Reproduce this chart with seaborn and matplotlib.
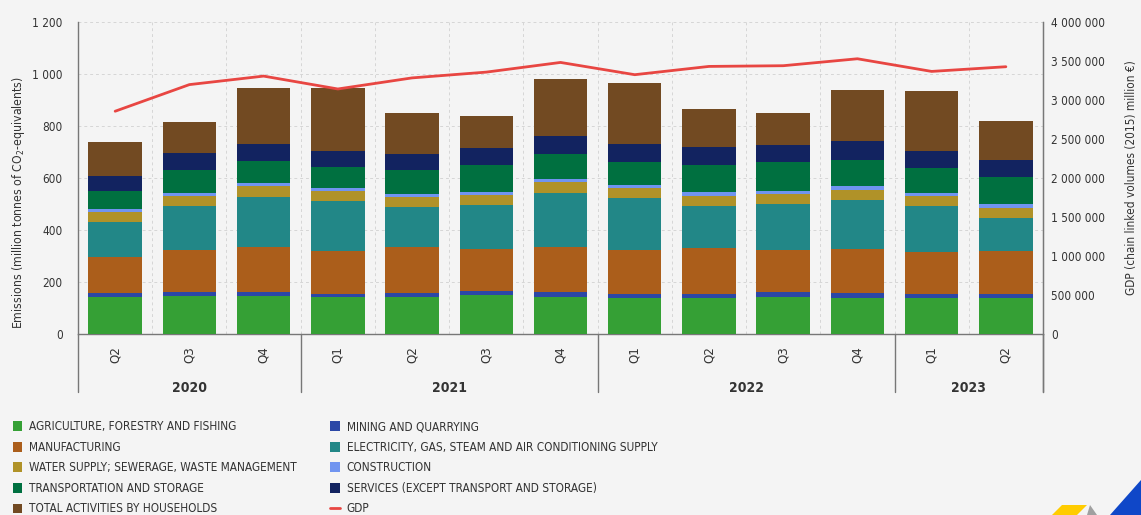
import numpy as np
import pandas as pd
import matplotlib
matplotlib.use("Agg")
import matplotlib.pyplot as plt
import matplotlib.transforms as mtransforms
from matplotlib.patches import Patch, Polygon
from matplotlib.lines import Line2D
from matplotlib.ticker import FuncFormatter, MultipleLocator
import seaborn as sns

# === Data ===
quarters = ["Q2", "Q3", "Q4", "Q1", "Q2", "Q3", "Q4", "Q1", "Q2", "Q3", "Q4", "Q1", "Q2"]
years = [2020, 2020, 2020, 2021, 2021, 2021, 2021, 2022, 2022, 2022, 2022, 2023, 2023]
year_labels = ["2020", "2021", "2022", "2023"]

agriculture = [144, 146, 146, 141, 144, 149, 144, 139, 140, 144, 140, 137, 139]
mining = [13, 16, 16, 14, 15, 15, 16, 15, 15, 16, 18, 17, 16]
manufacturing = [138, 159, 174, 163, 175, 162, 176, 167, 175, 161, 168, 160, 162]
electricity = [135, 169, 190, 193, 154, 171, 207, 200, 163, 177, 189, 176, 130]
water_supply = [39, 39, 41, 38, 38, 38, 40, 39, 38, 40, 38, 39, 38]
construction = [10, 11, 13, 13, 13, 12, 14, 14, 15, 11, 14, 12, 13]
transport = [70, 92, 85, 79, 90, 101, 96, 88, 105, 111, 103, 97, 105]
services = [59, 62, 65, 61, 64, 67, 68, 67, 68, 68, 70, 67, 67]
households = [130, 121, 216, 242, 158, 123, 220, 236, 146, 123, 199, 228, 148]

gdp = [2853000, 3194000, 3303000, 3138000, 3280000, 3354000, 3478000,
       3321000, 3427000, 3436000, 3525000, 3363000, 3423000]

sectors = [
    ("AGRICULTURE, FORESTRY AND FISHING", agriculture, "#35a035"),
    ("MINING AND QUARRYING", mining, "#2b47a6"),
    ("MANUFACTURING", manufacturing, "#ab5e1b"),
    ("ELECTRICITY, GAS, STEAM AND AIR CONDITIONING SUPPLY", electricity, "#228787"),
    ("WATER SUPPLY; SEWERAGE, WASTE MANAGEMENT", water_supply, "#b09228"),
    ("CONSTRUCTION", construction, "#7094f0"),
    ("TRANSPORTATION AND STORAGE", transport, "#007040"),
    ("SERVICES (EXCEPT TRANSPORT AND STORAGE)", services, "#122360"),
    ("TOTAL ACTIVITIES BY HOUSEHOLDS", households, "#724a22"),
]
gdp_color = "#e84642"

keys = [f"{y} {q}" for y, q in zip(years, quarters)]

# === Style ===
sns.set_style("white")
bg = "#f4f4f4"
plt.rcParams["font.family"] = ["DejaVu Sans"]
plt.rcParams["font.stretch"] = "condensed"
plt.rcParams["mathtext.default"] = "regular"
plt.rcParams["figure.facecolor"] = bg
plt.rcParams["axes.facecolor"] = bg
text_col = "#333333"

fig = plt.figure(figsize=(11.41, 5.15), dpi=100)
ax = fig.add_axes([0.0684, 0.3515, 0.9141 - 0.0684, 0.9579 - 0.3515])

# === Stacked bars ===
bottom = np.zeros(len(keys))
for name, vals, col in sectors:
    sns.barplot(x=keys, y=vals, bottom=bottom, color=col, width=0.72,
                errorbar=None, ax=ax, saturation=1, linewidth=0, zorder=3)
    bottom = bottom + np.array(vals)

ax.set_ylim(0, 1200)
ax.set_xlim(-0.5, len(keys) - 0.5)
ax.yaxis.set_major_locator(MultipleLocator(200))
ax.yaxis.set_major_formatter(FuncFormatter(lambda v, p: f"{v:,.0f}".replace(",", " ")))
ax.tick_params(axis="y", length=0, labelsize=8.5, labelcolor=text_col, pad=11)
ax.grid(axis="y", color="#d6d6d6", linestyle=(0, (3, 3)), linewidth=0.7, zorder=0)

# quarter separators / vertical grid
bounds = np.arange(len(keys) + 1) - 0.5
ax.set_xticks(bounds, minor=True)
ax.grid(axis="x", which="minor", color="#d6d6d6", linestyle=(0, (3, 3)), linewidth=0.7, zorder=0)
ax.tick_params(axis="x", which="minor", length=40, width=0.9, color="#666666")
ax.set_xticks(range(len(keys)))
ax.set_xticklabels(quarters, rotation=90, fontsize=9.5, color=text_col)
ax.tick_params(axis="x", which="major", length=0, pad=9)
ax.set_xlabel("")

ax.spines["top"].set_visible(False)
for s in ["left", "right", "bottom"]:
    ax.spines[s].set_color("#777777")
    ax.spines[s].set_linewidth(1)

# year separators and labels
trans = mtransforms.blended_transform_factory(ax.transData, ax.transAxes)
year_bounds = [-0.5, 2.5, 6.5, 10.5, 12.5]
for b in year_bounds:
    ax.plot([b, b], [0, -0.185], transform=trans, color="#777777", lw=1, clip_on=False)
for i, lab in enumerate(year_labels):
    xc = (year_bounds[i] + year_bounds[i + 1]) / 2
    ax.text(xc, -0.172, lab, transform=trans, ha="center", va="center",
            fontsize=10, fontweight="bold", color=text_col)

ax.set_ylabel("Emissions (million tonnes of CO$_2$-equivalents)", fontsize=8.8,
              color=text_col)
ax.yaxis.set_label_coords(-0.053, 0.42)

# === GDP line ===
ax2 = ax.twinx()
sns.lineplot(x=keys, y=gdp, ax=ax2, color=gdp_color, linewidth=2, sort=False, zorder=4)
ax2.set_ylim(0, 4000000)
ax2.yaxis.set_major_locator(MultipleLocator(500000))
ax2.yaxis.set_major_formatter(FuncFormatter(lambda v, p: f"{v:,.0f}".replace(",", " ")))
ax2.tick_params(axis="y", length=0, labelsize=8.5, labelcolor=text_col, pad=6)
ax2.set_ylabel("GDP (chain linked volumes (2015) million €)", fontsize=8.5,
               color=text_col, labelpad=14)
ax2.spines["top"].set_visible(False)
ax2.spines["left"].set_visible(False)
ax2.spines["bottom"].set_visible(False)
ax2.spines["right"].set_color("#777777")
ax2.plot([1, 1], [0, -0.185], transform=ax2.transAxes, color="#777777", lw=1, clip_on=False)

# === Legend ===
h = {name: Patch(facecolor=col, edgecolor="none") for name, _, col in sectors}
h["GDP"] = Line2D([], [], color=gdp_color, linewidth=2)
order = [
    "AGRICULTURE, FORESTRY AND FISHING",
    "MANUFACTURING",
    "WATER SUPPLY; SEWERAGE, WASTE MANAGEMENT",
    "TRANSPORTATION AND STORAGE",
    "TOTAL ACTIVITIES BY HOUSEHOLDS",
    "MINING AND QUARRYING",
    "ELECTRICITY, GAS, STEAM AND AIR CONDITIONING SUPPLY",
    "CONSTRUCTION",
    "SERVICES (EXCEPT TRANSPORT AND STORAGE)",
    "GDP",
]
fig.legend([h[k] for k in order], order, loc="upper left", bbox_to_anchor=(0.004, 0.2),
           ncol=2, frameon=False, fontsize=8.5, handlelength=0.8, handleheight=0.9,
           handletextpad=0.6, labelspacing=0.64, columnspacing=2.8,
           labelcolor=text_col, borderpad=0.2)

# decorative logo corner
fig.patches.append(Polygon([[1052, 0], [1062, 10], [1087, 10], [1077, 0]], closed=True,
                           transform=None, facecolor="#ffcc00", edgecolor="none"))
fig.patches.append(Polygon([[1087, 0], [1090, 10], [1097, 0]], closed=True,
                           transform=None, facecolor="#a0a0a0", edgecolor="none"))
fig.patches.append(Polygon([[1110, 0], [1141, 35], [1141, 0]], closed=True,
                           transform=None, facecolor="#0f47c8", edgecolor="none"))

fig.savefig("out.png", dpi=100, facecolor=bg)
